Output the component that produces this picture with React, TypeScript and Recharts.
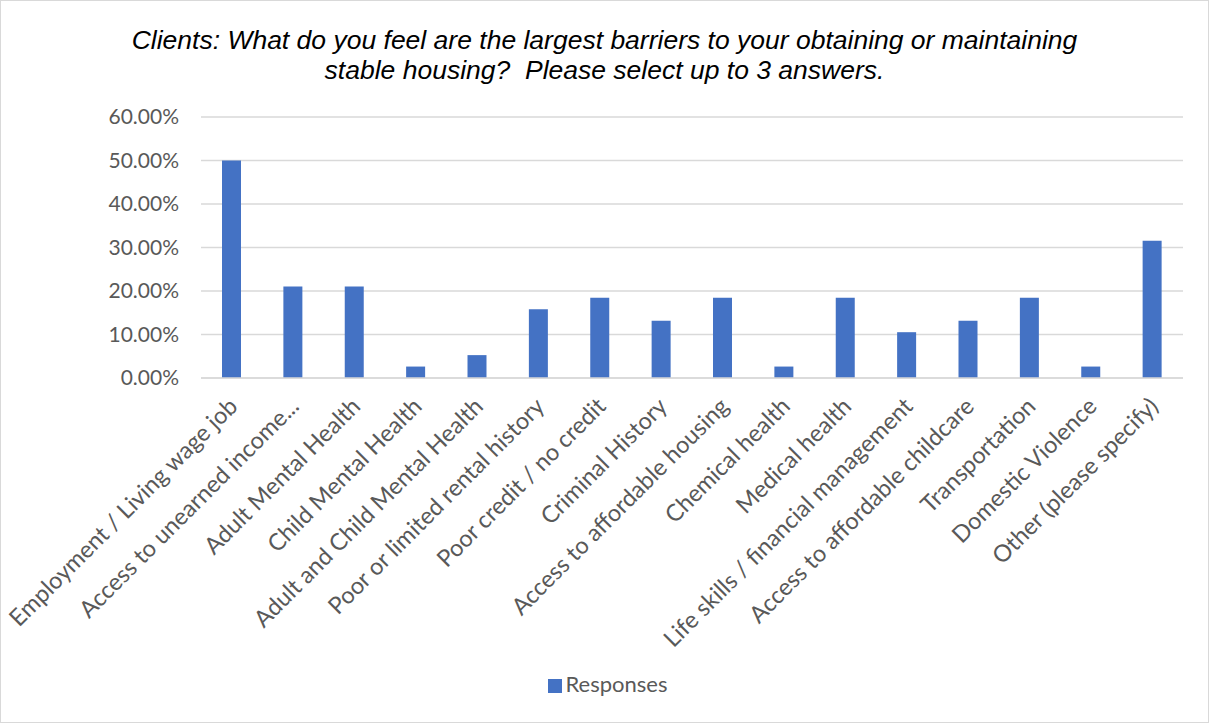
import { BarChart, Bar, XAxis, YAxis, CartesianGrid, Legend } from "recharts";

const categories = [
  "Employment / Living wage job",
  "Access to unearned income...",
  "Adult Mental Health",
  "Child Mental Health",
  "Adult and Child Mental Health",
  "Poor or limited rental history",
  "Poor credit / no credit",
  "Criminal History",
  "Access to affordable housing",
  "Chemical health",
  "Medical health",
  "Life skills / financial management",
  "Access to affordable childcare",
  "Transportation",
  "Domestic Violence",
  "Other (please specify)",
];

const responses = [
  0.5, 0.2105, 0.2105, 0.0263, 0.0526, 0.1579, 0.1842, 0.1316, 0.1842, 0.0263, 0.1842, 0.1053,
  0.1316, 0.1842, 0.0263, 0.3158,
];

const yTicks = [0, 0.1, 0.2, 0.3, 0.4, 0.5, 0.6];

const title = [
  "Clients: What do you feel are the largest barriers to your obtaining or maintaining",
  "stable housing?  Please select up to 3 answers.",
];

const chartData = categories.map((name, i) => ({ name, Responses: responses[i] }));

const labelFont = "Lato, 'Open Sans', sans-serif";
const textGray = "#595959";

const AngledTick = ({ x, y, payload }: { x?: number; y?: number; payload?: { value: string } }) => (
  <g transform={`translate(${(x ?? 0) + 1},${(y ?? 0) + 7})`}>
    <text
      transform="rotate(-45)"
      textAnchor="end"
      x={0}
      y={0}
      dx={-6}
      dy={15}
      fill={textGray}
      fontSize={23.5}
      fontFamily={labelFont}
    >
      {payload?.value}
    </text>
  </g>
);

export default function App() {
  return (
    <div style={{ position: "fixed", left: 0, top: 0, width: 1209, height: 723, background: "#fff" }}>
      <div
        style={{
          position: "absolute",
          top: 25,
          left: 0,
          width: 1209,
          textAlign: "center",
          fontFamily: "'Liberation Sans', Arial, sans-serif",
          fontStyle: "italic",
          fontSize: 26.5,
          lineHeight: "30px",
          color: "#000",
        }}
      >
        {title.map((t) => (
          <div key={t} style={{ whiteSpace: "pre" }}>
            {t}
          </div>
        ))}
      </div>
      <BarChart
        width={1209}
        height={723}
        data={chartData}
        margin={{ top: 117, right: 26, left: 0, bottom: 26 }}
        barSize={19}
      >
        <CartesianGrid vertical={false} stroke="#d9d9d9" strokeWidth={1.5} />
        <XAxis
          dataKey="name"
          interval={0}
          tick={<AngledTick />}
          tickLine={false}
          axisLine={{ stroke: "#d9d9d9", strokeWidth: 1.5 }}
          height={292}
        />
        <YAxis
          domain={[0, 0.6]}
          ticks={yTicks}
          tickFormatter={(v: number) => `${(v * 100).toFixed(2)}%`}
          axisLine={false}
          tickLine={false}
          width={201}
          tickMargin={16}
          tick={{ fill: textGray, fontSize: 21, fontFamily: labelFont }}
        />
        <Legend
          verticalAlign="bottom"
          iconType="square"
          iconSize={14}
          wrapperStyle={{ fontFamily: labelFont, fontSize: 22, color: textGray, paddingLeft: 21 }}
          formatter={(value: string) => <span style={{ color: textGray }}>{value}</span>}
        />
        <Bar dataKey="Responses" fill="#4472c4" isAnimationActive={false} />
      </BarChart>
      <div
        style={{
          position: "absolute",
          inset: 0,
          border: "1px solid #d9d9d9",
          pointerEvents: "none",
        }}
      />
    </div>
  );
}
